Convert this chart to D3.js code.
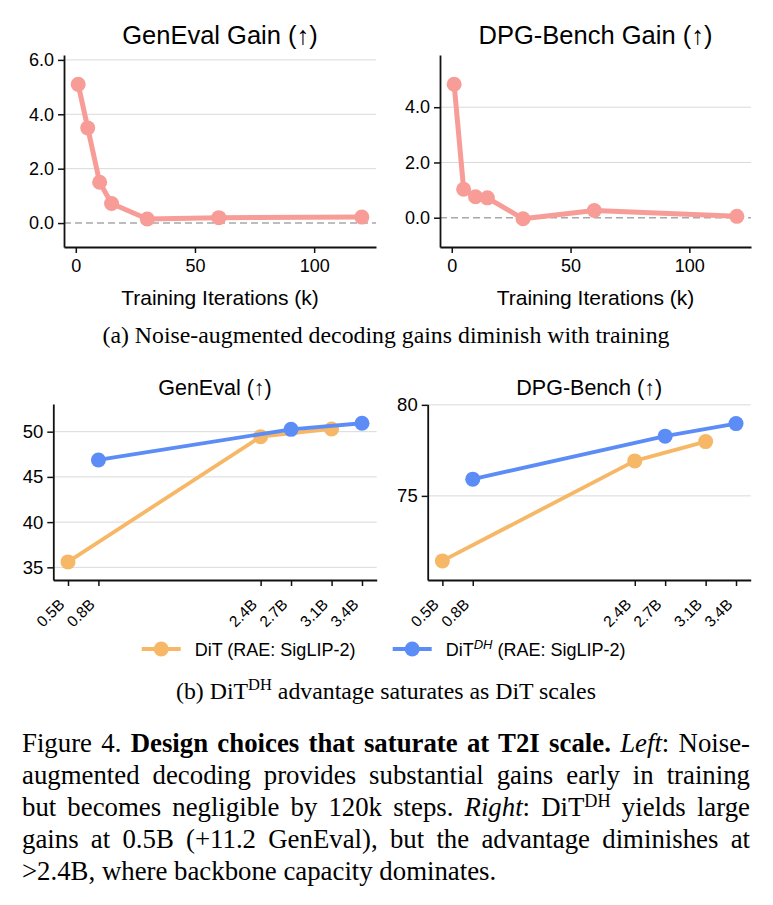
<!DOCTYPE html>
<html>
<head>
<meta charset="utf-8">
<script src="https://cdn.jsdelivr.net/npm/d3@7"></script>
<style>
  body { margin: 0; background: #fff; }
  #wrap { position: relative; width: 773px; height: 905px; overflow: hidden; }
  #chart { position: absolute; left: 0; top: 0; }
  #caption { position: absolute; left: 22px; top: 727px; width: 728px;
    font-family: "Liberation Serif", "Times New Roman", serif; font-size: 26.8px; line-height: 32px; color: #000; }
  #caption div { text-align: justify; text-align-last: justify; white-space: nowrap; }
  #caption div.last { text-align: left; text-align-last: left; }
  #caption sup { font-size: 0.68em; vertical-align: 0.5em; line-height: 0; }
</style>
</head>
<body>
<div id="wrap">
  <div id="chart"></div>
  <div id="caption">
    <div>Figure 4. <b>Design choices that saturate at T2I scale.</b> <i>Left</i>: Noise-</div>
    <div>augmented decoding provides substantial gains early in training</div>
    <div>but becomes negligible by 120k steps. <i>Right</i>: DiT<sup>DH</sup> yields large</div>
    <div>gains at 0.5B (+11.2 GenEval), but the advantage diminishes at</div>
    <div class="last">&gt;2.4B, where backbone capacity dominates.</div>
  </div>
</div>
<script>
// ---- data ----
// (a) gains vs training iterations
const iters = [1, 5, 10, 15, 30, 60, 120];
const genevalGain = [5.1, 3.5, 1.5, 0.72, 0.15, 0.2, 0.22];
const dpgGain = [4.83, 1.03, 0.76, 0.72, -0.04, 0.26, 0.05];
const iterTicks = [0, 50, 100];

// (b) scores vs model size
const sizeTicks = [0.5, 0.8, 2.4, 2.7, 3.1, 3.4];
const sizeLabels = ["0.5B", "0.8B", "2.4B", "2.7B", "3.1B", "3.4B"];
const ditSizes = [0.5, 2.4, 3.1];
const ditGeneval = [35.6, 49.45, 50.3];
const ditDpg = [71.43, 76.92, 77.98];
const dhSizes = [0.8, 2.7, 3.4];
const dhGeneval = [46.87, 50.26, 50.93];
const dhDpg = [75.92, 78.28, 78.97];

const pink = "#f89c98";
const orange = "#f6b866";
const blue = "#5c8df6";
const sans = "'Liberation Sans', Arial, Helvetica, sans-serif";
const serif = "'Liberation Serif', 'Times New Roman', serif";

const width = 773, height = 905;

const svg = d3.select("#chart")
  .append("svg")
  .attr("width", width)
  .attr("height", height);

// draw one panel
function panel(o) {
  const x = d3.scaleLinear().domain(o.xDomain).range(o.xRange);
  const y = d3.scaleLinear().domain(o.yDomain).range(o.yRange);
  const g = svg.append("g");

  // grid lines
  g.selectAll(".grid")
    .data(o.grid)
    .enter()
    .append("line")
    .attr("x1", o.xRange[0]).attr("x2", o.xRange[1])
    .attr("y1", d => y(d)).attr("y2", d => y(d))
    .attr("stroke", "#d9d9d9")
    .attr("stroke-width", 1);

  // dashed zero line
  if (o.zero) {
    g.append("line")
      .attr("x1", o.xRange[0]).attr("x2", o.xRange[1])
      .attr("y1", y(0)).attr("y2", y(0))
      .attr("stroke", "#a8a8a8")
      .attr("stroke-width", 1.6)
      .attr("stroke-dasharray", "7,4");
  }

  // series
  o.series.forEach(s => {
    const pts = s.xs.map((d, i) => [d, s.ys[i]]);
    g.append("path")
      .datum(pts)
      .attr("fill", "none")
      .attr("stroke", s.color)
      .attr("stroke-width", o.lineWidth)
      .attr("stroke-linejoin", "round")
      .attr("d", d3.line().x(d => x(d[0])).y(d => y(d[1])));
    g.selectAll(null)
      .data(pts)
      .enter()
      .append("circle")
      .attr("cx", d => x(d[0]))
      .attr("cy", d => y(d[1]))
      .attr("r", o.r)
      .attr("fill", s.color);
  });

  // axes
  const yAxis = d3.axisLeft(y).tickValues(o.yTicks).tickFormat(o.yFormat)
    .tickSize(6).tickPadding(4).tickSizeOuter(0);
  const xAxis = d3.axisBottom(x).tickValues(o.xTicks).tickFormat(o.xFormat)
    .tickSize(6).tickPadding(6).tickSizeOuter(0);

  const gy = g.append("g")
    .attr("transform", `translate(${o.xRange[0]},0)`)
    .call(yAxis);
  const gx = g.append("g")
    .attr("transform", `translate(0,${o.yRange[0]})`)
    .call(xAxis);

  [gx, gy].forEach(a => {
    a.select(".domain").attr("stroke", "#111").attr("stroke-width", 1.8);
    a.selectAll(".tick line").attr("stroke", "#111").attr("stroke-width", 1.5);
    a.selectAll(".tick text").attr("fill", "#000").attr("font-family", sans);
  });
  gy.selectAll(".tick text").attr("font-size", o.yFont);
  gx.selectAll(".tick text").attr("font-size", o.xFont);

  if (o.rotate) {
    gx.selectAll(".tick text")
      .attr("x", 0).attr("y", 0).attr("dy", 0)
      .attr("text-anchor", "end")
      .attr("transform", "translate(-3,25.5) rotate(-45)");
  }

  // title
  g.append("text")
    .attr("x", (o.xRange[0] + o.xRange[1]) / 2)
    .attr("y", o.titleY)
    .attr("text-anchor", "middle")
    .attr("font-family", sans)
    .attr("font-size", o.titleFont)
    .text(o.title);

  // x label
  if (o.xLabel) {
    g.append("text")
      .attr("x", (o.xRange[0] + o.xRange[1]) / 2)
      .attr("y", 304.5)
      .attr("text-anchor", "middle")
      .attr("font-family", sans)
      .attr("font-size", 21)
      .text(o.xLabel);
  }
}

const f1 = d3.format(".1f");

// (a) left
panel({
  xRange: [64, 376], yRange: [247, 55],
  xDomain: [-4.95, 125.95], yDomain: [-0.88, 6.18],
  yTicks: [0, 2, 4, 6], grid: [2, 4, 6], yFormat: f1,
  xTicks: iterTicks, xFormat: d3.format("d"),
  zero: true, lineWidth: 5, r: 7.5, yFont: 18, xFont: 18,
  series: [{ xs: iters, ys: genevalGain, color: pink }],
  title: "GenEval Gain (↑)", titleY: 43.5, titleFont: 25.5,
  xLabel: "Training Iterations (k)"
});

// (a) right
panel({
  xRange: [440, 751], yRange: [247, 55],
  xDomain: [-4.95, 125.95], yDomain: [-1.06, 5.89],
  yTicks: [0, 2, 4], grid: [2, 4], yFormat: f1,
  xTicks: iterTicks, xFormat: d3.format("d"),
  zero: true, lineWidth: 5, r: 7.5, yFont: 18, xFont: 18,
  series: [{ xs: iters, ys: dpgGain, color: pink }],
  title: "DPG-Bench Gain (↑)", titleY: 43.5, titleFont: 25.5,
  xLabel: "Training Iterations (k)"
});

// (b) left
panel({
  xRange: [53.3, 376.7], yRange: [580, 404],
  xDomain: [0.355, 3.545], yDomain: [33.6, 53.06],
  yTicks: [35, 40, 45, 50], grid: [35, 40, 45, 50], yFormat: d3.format("d"),
  xTicks: sizeTicks, xFormat: (d, i) => sizeLabels[i],
  zero: false, lineWidth: 3.8, r: 7.5, yFont: 18.5, xFont: 15.5, rotate: true,
  series: [
    { xs: ditSizes, ys: ditGeneval, color: orange },
    { xs: dhSizes, ys: dhGeneval, color: blue }
  ],
  title: "GenEval (↑)", titleY: 395, titleFont: 21.5
});

// (b) right
panel({
  xRange: [427.7, 750.7], yRange: [580, 404.3],
  xDomain: [0.355, 3.545], yDomain: [70.38, 80.03],
  yTicks: [75, 80], grid: [75, 80], yFormat: d3.format("d"),
  xTicks: sizeTicks, xFormat: (d, i) => sizeLabels[i],
  zero: false, lineWidth: 3.8, r: 7.5, yFont: 18.5, xFont: 15.5, rotate: true,
  series: [
    { xs: ditSizes, ys: ditDpg, color: orange },
    { xs: dhSizes, ys: dhDpg, color: blue }
  ],
  title: "DPG-Bench (↑)", titleY: 395, titleFont: 21.5
});

// legend
const legend = svg.append("g");
[{ x: 141.7, color: orange, dh: false }, { x: 392.7, color: blue, dh: true }].forEach(l => {
  legend.append("line")
    .attr("x1", l.x).attr("x2", l.x + 39)
    .attr("y1", 649).attr("y2", 649)
    .attr("stroke", l.color).attr("stroke-width", 4);
  legend.append("circle")
    .attr("cx", l.x + 19.5).attr("cy", 649).attr("r", 7.5)
    .attr("fill", l.color);
  const t = legend.append("text")
    .attr("x", l.x + 53).attr("y", 655.5)
    .attr("font-family", sans).attr("font-size", 18);
  t.append("tspan").text("DiT");
  if (l.dh) {
    t.append("tspan").attr("font-size", 13).attr("font-style", "italic")
      .attr("dy", -7).text("DH");
    t.append("tspan").attr("dy", 7).text(" (RAE: SigLIP-2)");
  } else {
    t.append("tspan").text(" (RAE: SigLIP-2)");
  }
});

// sub captions
svg.append("text")
  .attr("x", 386).attr("y", 343)
  .attr("text-anchor", "middle")
  .attr("font-family", serif).attr("font-size", 23.8)
  .text("(a) Noise-augmented decoding gains diminish with training");

const capB = svg.append("text")
  .attr("x", 386).attr("y", 699)
  .attr("text-anchor", "middle")
  .attr("font-family", serif).attr("font-size", 23.8);
capB.append("tspan").text("(b) DiT");
capB.append("tspan").attr("font-size", 16.5).attr("dy", -9).text("DH");
capB.append("tspan").attr("dy", 9).text(" advantage saturates as DiT scales");
</script>
</body>
</html>
